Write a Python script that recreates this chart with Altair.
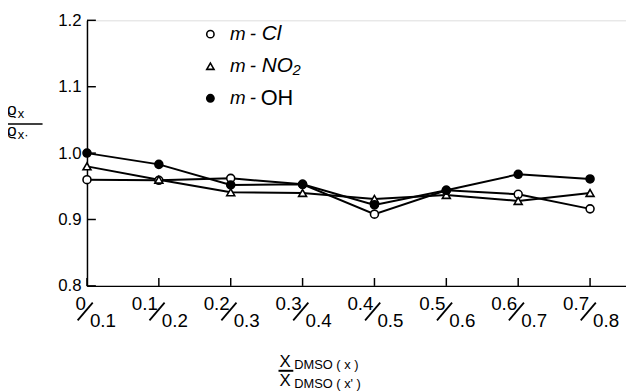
import altair as alt
import pandas as pd

numerators = ["0", "0.1", "0.2", "0.3", "0.4", "0.5", "0.6", "0.7"]
denominators = ["0.1", "0.2", "0.3", "0.4", "0.5", "0.6", "0.7", "0.8"]
series_names = ["m - Cl", "m - NO₂", "m - OH"]
legend_suffix = ["Cl", "NO₂", "OH"]
suffix_style = ["italic", "italic", "normal"]
cl_values = [0.960, 0.959, 0.962, 0.953, 0.908, 0.944, 0.938, 0.916]
no2_values = [0.980, 0.960, 0.941, 0.940, 0.931, 0.937, 0.928, 0.940]
oh_values = [1.000, 0.983, 0.952, 0.953, 0.922, 0.944, 0.968, 0.961]
y_ticks = [0.8, 0.9, 1.0, 1.1, 1.2]

FONT = "Liberation Sans"
W, H = 546, 269

rows = []
for name, vals in zip(series_names, [cl_values, no2_values, oh_values]):
    for i, v in enumerate(vals):
        rows.append({"idx": i, "value": v, "series": name})
df = pd.DataFrame(rows)

cats = pd.DataFrame({"idx": list(range(len(numerators))), "num": numerators, "den": denominators})
yt = pd.DataFrame({"v": y_ticks})
leg = pd.DataFrame({"series": series_names, "suf": legend_suffix, "sty": suffix_style})

xscale = alt.Scale(domain=[0, 7.5], nice=False, zero=False)
yscale = alt.Scale(domain=[0.8, 1.2], nice=False, zero=False)
shape_scale = alt.Scale(domain=series_names, range=["circle", "triangle-up", "circle"])
fill_scale = alt.Scale(domain=series_names, range=["white", "white", "black"])
leg_y = alt.Scale(domain=series_names, range=[14, 79], padding=0)

X = alt.X("idx:Q", scale=xscale,
          axis=alt.Axis(labels=False, ticks=False, grid=False, title=None,
                        domainColor="black", domainWidth=1.5))
Y = alt.Y("value:Q", scale=yscale,
          axis=alt.Axis(values=y_ticks, format=".1f", ticks=False, grid=False, title=None,
                        labelFontSize=17, labelFont=FONT, labelColor="black", labelPadding=6,
                        domainColor="black", domainWidth=1.5))
Y_noaxis = alt.Y("value:Q", scale=yscale, axis=None)

lines = alt.Chart(df).mark_line(color="black", strokeWidth=2).encode(
    x=X, y=Y, detail="series:N")

points = alt.Chart(df).mark_point(size=65, strokeWidth=1.6, stroke="black", opacity=1, filled=True).encode(
    x=alt.X("idx:Q", scale=xscale, axis=None), y=Y_noaxis,
    shape=alt.Shape("series:N", scale=shape_scale, legend=None),
    fill=alt.Fill("series:N", scale=fill_scale, legend=None),
)

leg_sym = alt.Chart(leg).mark_point(size=55, strokeWidth=1.6, stroke="black", opacity=1, filled=True).encode(
    x=alt.value(125),
    y=alt.Y("series:N", scale=leg_y, axis=None),
    shape=alt.Shape("series:N", scale=shape_scale, legend=None),
    fill=alt.Fill("series:N", scale=fill_scale, legend=None),
)
leg_m = alt.Chart(leg).mark_text(align="left", baseline="middle", fontSize=19, font=FONT,
                                  fontStyle="italic", color="black").encode(
    x=alt.value(145), y=alt.Y("series:N", scale=leg_y, axis=None), text=alt.value("m"))
leg_dash = alt.Chart(leg).mark_text(align="left", baseline="middle", fontSize=19, font=FONT,
                                     fontStyle="italic", color="black").encode(
    x=alt.value(165), y=alt.Y("series:N", scale=leg_y, axis=None), text=alt.value("-"))
leg_suf_it = alt.Chart(leg).transform_filter(alt.datum.sty == "italic").mark_text(
    align="left", baseline="middle", fontSize=21, font=FONT, fontStyle="italic",
    color="black").encode(
    x=alt.value(177), y=alt.Y("series:N", scale=leg_y, axis=None), text="suf:N")
leg_suf_n = alt.Chart(leg).transform_filter(alt.datum.sty == "normal").mark_text(
    align="left", baseline="middle", fontSize=22, font=FONT, fontStyle="normal",
    color="black").encode(
    x=alt.value(176), y=alt.Y("series:N", scale=leg_y, axis=None), text="suf:N")

xticks = alt.Chart(cats).mark_rule(color="black", strokeWidth=1.5).encode(
    x=alt.X("idx:Q", scale=xscale, axis=None), y=alt.value(H), y2=alt.value(H - 8))
yticks = alt.Chart(yt).mark_rule(color="black", strokeWidth=1.5).encode(
    y=alt.Y("v:Q", scale=yscale, axis=None), x=alt.value(0), x2=alt.value(9))

num_text = alt.Chart(cats).mark_text(align="right", baseline="alphabetic", fontSize=19,
                                      font=FONT, dx=-1, color="black").encode(
    x=alt.X("idx:Q", scale=xscale, axis=None), y=alt.value(293), text="num:N")
slash = alt.Chart(cats).transform_calculate(
    xa="datum.idx - 0.13", xb="datum.idx + 0.08").mark_rule(
    color="black", strokeWidth=1.8).encode(
    x=alt.X("xa:Q", scale=xscale, axis=None), x2="xb:Q", y=alt.value(304), y2=alt.value(286))
den_text = alt.Chart(cats).mark_text(align="left", baseline="alphabetic", fontSize=19,
                                      font=FONT, dx=3, color="black").encode(
    x=alt.X("idx:Q", scale=xscale, axis=None), y=alt.value(311), text="den:N")

def label(txt, x, y, size, align="left", style="normal"):
    return alt.Chart(pd.DataFrame({"t": [txt]})).mark_text(
        align=align, baseline="alphabetic", fontSize=size, font=FONT,
        fontStyle=style, color="black").encode(x=alt.value(x), y=alt.value(y), text="t:N")

ytitle = (label("ϱ", -81, 96, 17) + label("x", -70, 99, 13)
          + alt.Chart(pd.DataFrame({"a": [0]})).mark_rule(color="black", strokeWidth=1.5).encode(
              x=alt.value(-83), x2=alt.value(-45), y=alt.value(105))
          + label("ϱ", -81, 117, 17) + label("x·", -70, 120, 13))

xtitle = (label("X", 195, 351, 17) + label("DMSO ( x )", 210, 353, 13)
          + alt.Chart(pd.DataFrame({"a": [0]})).mark_rule(color="black", strokeWidth=2).encode(
              x=alt.value(194), x2=alt.value(209), y=alt.value(355))
          + label("X", 195, 370, 17) + label("DMSO ( x' )", 210, 372, 13))

chart = alt.layer(lines, points, xticks, yticks, num_text, slash, den_text,
                  leg_sym, leg_m, leg_dash, leg_suf_it, leg_suf_n, ytitle, xtitle).resolve_scale(
    y="independent", x="independent").properties(
    width=W, height=H,
    autosize=alt.AutoSizeParams(type="none"),
    padding={"left": 80, "top": 10, "right": 0, "bottom": 104},
).configure_view(stroke=None).configure(background="white")

chart.save("out.html", embed_options={"renderer": "svg", "actions": False})
